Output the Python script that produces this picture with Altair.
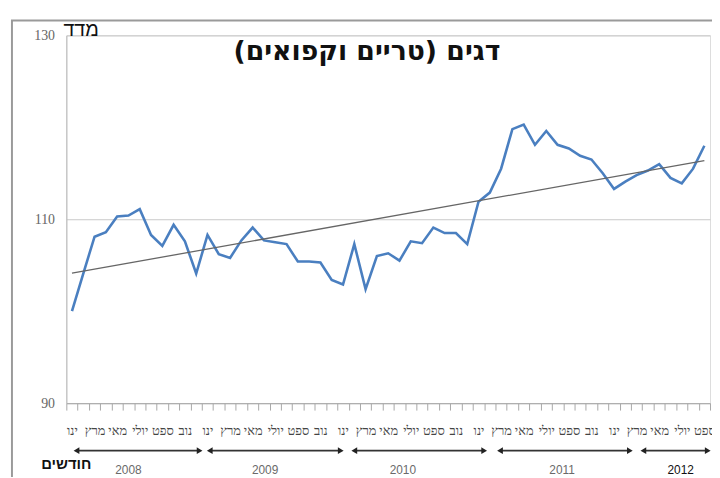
import altair as alt
import pandas as pd

# ---- data ----
month_names = ["ינו", "פבר", "מרץ", "אפר", "מאי", "יוני", "יולי", "אוג", "ספט", "אוק", "נוב", "דצמ"]

index_2008 = [100.0, 104.1, 108.1, 108.6, 110.3, 110.4, 111.1, 108.3, 107.1, 109.4, 107.6, 104.1]
index_2009 = [108.3, 106.2, 105.8, 107.7, 109.1, 107.7, 107.5, 107.3, 105.4, 105.4, 105.3, 103.4]
index_2010 = [102.9, 107.3, 102.4, 106.0, 106.3, 105.5, 107.6, 107.4, 109.1, 108.5, 108.5, 107.3]
index_2011 = [111.9, 112.9, 115.5, 119.8, 120.3, 118.1, 119.6, 118.1, 117.7, 116.9, 116.5, 115.0]
index_2012 = [113.3, 114.1, 114.8, 115.3, 116.0, 114.5, 113.9, 115.5, 118.0]

years = ["2008", "2009", "2010", "2011", "2012"]
arrow_start = [0.4, 12.2, 25.0, 37.9, 50.6]
arrow_end = [11.3, 23.8, 36.5, 49.4, 56.3]
year_label_pos = [5.0, 17.1, 29.3, 43.4, 53.9]
year_colors = ["#6a6a6a", "#6a6a6a", "#6a6a6a", "#6a6a6a", "#111111"]

y_ticks = [90, 110, 130]
title_text = "דגים (טריים וקפואים)"
y_title = "מדד"
x_title = "חודשים"

values = index_2008 + index_2009 + index_2010 + index_2011 + index_2012
n = len(values)
df = pd.DataFrame({"i": list(range(n)), "value": values})

arrows = pd.DataFrame({"year": years, "start": arrow_start, "end": arrow_end,
                       "pos": year_label_pos, "color": year_colors})

months_js = "[" + ",".join("'" + m + "'" for m in month_names) + "]"
label_expr = (
    f"(round(datum.value + 0.5) % 2 == 0 && round(datum.value + 0.5) < {n}) ? "
    f"{months_js}[round(datum.value + 0.5) % 12] : ''"
)

W, H = 651, 372
x_scale = alt.Scale(domain=[-0.5, n - 0.5], nice=False, zero=False)
x_axis = alt.Axis(
    values=[k - 0.5 for k in range(n + 1)],
    labelExpr=label_expr,
    labelOffset=W / n / 2,
    labelOverlap=False,
    labelFlush=False,
    labelBound=False,
    labelFont="Liberation Serif",
    labelFontSize=13,
    labelColor="#444444",
    labelPadding=15,
    tickSize=7,
    tickColor="#a8a8a8",
    domainColor="#a8a8a8",
    grid=False,
    title=None,
)
x_enc = alt.X("i:Q", scale=x_scale, axis=x_axis)
y_enc = alt.Y(
    "value:Q",
    scale=alt.Scale(domain=[90, 130], nice=False, zero=False),
    axis=alt.Axis(
        values=y_ticks,
        grid=True,
        gridColor="#c8c8c8",
        ticks=False,
        domainColor="#b8b8b8",
        labelFont="Liberation Serif",
        labelFontSize=14,
        labelColor="#666666",
        labelPadding=12,
        title=None,
    ),
)

frame = alt.Chart(pd.DataFrame({"a": [0]})).mark_rect(
    fillOpacity=0, stroke="#9a9a9a", strokeWidth=2
).encode(x=alt.value(-55), y=alt.value(-15), x2=alt.value(900), y2=alt.value(700))

line = alt.Chart(df).mark_line(color="#4a7fc0", strokeWidth=2.6).encode(x=x_enc, y=y_enc)

trend = alt.Chart(df).mark_line(color="#666666", strokeWidth=1.3).encode(
    x=x_enc, y=y_enc
).transform_regression("i", "value", method="linear")

arrow_rule = alt.Chart(arrows).mark_rule(color="#333333", strokeWidth=2).encode(
    x=alt.X("start:Q", scale=x_scale, axis=x_axis), x2="end:Q", y=alt.value(420)
)
arrow_left = alt.Chart(arrows).mark_point(
    shape="triangle-left", filled=True, color="#222222", size=45, opacity=1
).encode(x=alt.X("start:Q", scale=x_scale, axis=x_axis), y=alt.value(420))
arrow_right = alt.Chart(arrows).mark_point(
    shape="triangle-right", filled=True, color="#222222", size=45, opacity=1
).encode(x=alt.X("end:Q", scale=x_scale, axis=x_axis), y=alt.value(420))

year_text = alt.Chart(arrows).mark_text(font="Liberation Sans", fontSize=12).encode(
    x=alt.X("pos:Q", scale=x_scale, axis=x_axis), y=alt.value(440), text="year:N",
    color=alt.Color("color:N", scale=None)
)

title = alt.Chart(pd.DataFrame({"t": [title_text]})).mark_text(
    font="DejaVu Sans", fontWeight="bold", fontSize=27,
    color="#111111", dir="rtl"
).encode(x=alt.value(304), y=alt.value(17), text="t:N")

ytitle = alt.Chart(pd.DataFrame({"t": [y_title]})).mark_text(
    font="Liberation Sans", fontSize=20, color="#111111"
).encode(x=alt.value(15), y=alt.value(-5), text="t:N")

xtitle = alt.Chart(pd.DataFrame({"t": [x_title]})).mark_text(
    font="Liberation Sans", fontWeight="bold", fontSize=15, color="#111111"
).encode(x=alt.value(0), y=alt.value(434), text="t:N")

chart = alt.layer(
    frame, line, trend, arrow_rule, arrow_left, arrow_right, year_text, title, ytitle, xtitle
).properties(
    width=W, height=H,
    padding={"left": 59, "top": 25, "right": 2, "bottom": 72},
    autosize=alt.AutoSizeParams(type="none"),
).configure_view(stroke=None).configure_axisX(labelOverlap=False).configure(background="white")

chart.save("out.html", embed_options={"renderer": "svg", "actions": False})
